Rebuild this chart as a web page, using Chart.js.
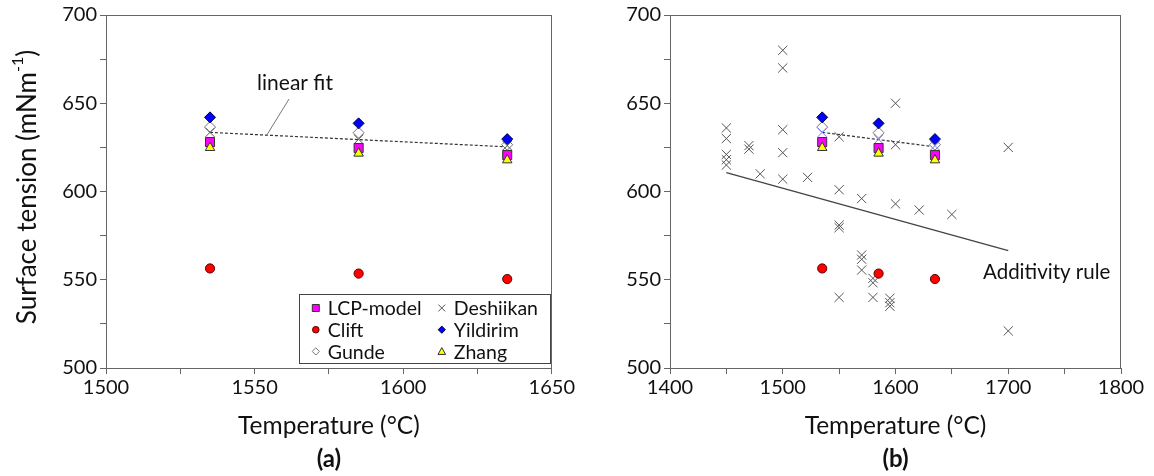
<!DOCTYPE html>
<html>
<head>
<meta charset="utf-8">
<script src="https://cdn.jsdelivr.net/npm/chart.js@4.4.0/dist/chart.umd.min.js"></script>
<style>
  body { margin: 0; background: #fff; }
  #wrap { position: relative; width: 1154px; height: 476px; }
  .pane { position: absolute; top: 0; width: 577px; height: 476px; }
</style>
</head>
<body>
<div id="wrap">
  <div class="pane" style="left:0"><canvas id="chartA" width="577" height="476"></canvas></div>
  <div class="pane" style="left:577px"><canvas id="chartB" width="577" height="476"></canvas></div>
</div>
<script>
// model temperatures (°C) and surface tension (mN/m)
const temps = [1535, 1585, 1635];
const lcpModel = [628, 624.6, 620.7];
const clift = [556.4, 553.5, 550.4];
const gunde = [636.5, 633.3, 626.5];
const deshiikan = [633.5, 629.6, 626];
const yildirim = [642, 638.6, 629.7];
const zhang = [624.8, 621.6, 617.8];

// linear fit through the model points
const fitT = [1535, 1635];
const fitST = [633.5, 625.3];

// experimental values (panel b)
const expT = [1450, 1450, 1450, 1450, 1450, 1470, 1470, 1480, 1500, 1500, 1500, 1500, 1500, 1522,
  1550, 1550, 1550, 1550, 1550, 1570, 1570, 1570, 1570, 1580, 1580, 1580, 1595, 1595, 1595,
  1600, 1600, 1600, 1621, 1650, 1700, 1700];
const expST = [636, 630, 621, 618, 615, 626, 624, 610, 680, 670, 635, 622, 607, 608,
  631, 601, 581, 579.5, 540, 596, 564, 561.6, 555.5, 550.8, 548.3, 540, 539.5, 537, 535,
  650, 626.5, 593, 589.5, 587, 625, 521];

// additivity rule
const addT = [1450, 1700];
const addST = [610.7, 566.5];

const yTicks = [500, 550, 600, 650, 700];
const xTicksA = [1500, 1550, 1600, 1650];
const xTicksB = [1400, 1500, 1600, 1700, 1800];

const FONT = 'Lato, "Open Sans", sans-serif';
const AXIS = '#666';

function pts(xs, ys) {
  return xs.map((x, i) => ({ x: x, y: ys[i] }));
}

const styles = {
  'LCP-model': { pointStyle: 'rect', pointRadius: 6.4, backgroundColor: '#ff00ff', borderColor: '#333' },
  'Clift': { pointStyle: 'circle', pointRadius: 4.6, backgroundColor: '#ff0000', borderColor: '#5a0000' },
  'Gunde': { pointStyle: 'rectRot', pointRadius: 5.5, backgroundColor: '#ffffff', borderColor: '#777' },
  'Deshiikan': { pointStyle: 'crossRot', pointRadius: 6.5, backgroundColor: '#555', borderColor: '#555' },
  'Yildirim': { pointStyle: 'rectRot', pointRadius: 5.5, backgroundColor: '#0000ff', borderColor: '#00004a' },
  'Zhang': { pointStyle: 'triangle', pointRadius: 5.5, backgroundColor: '#ffff00', borderColor: '#333' }
};

function series(label, ys, extra) {
  return Object.assign({
    type: 'scatter',
    label: label,
    data: pts(temps, ys),
    borderWidth: 1,
    pointBorderWidth: 1
  }, styles[label], extra || {});
}

function modelSets(desColor) {
  return [
    series('Yildirim', yildirim, { order: 1 }),
    series('Zhang', zhang, { order: 2 }),
    series('LCP-model', lcpModel, { order: 3 }),
    series('Deshiikan', deshiikan, { order: 4, borderColor: desColor, backgroundColor: desColor }),
    series('Gunde', gunde, { order: 5 }),
    series('Clift', clift, { order: 1 }),
    {
      type: 'line', label: 'linear fit', data: pts(fitT, fitST), order: 20,
      borderColor: '#333', borderWidth: 1.2, borderDash: [3, 2], pointRadius: 0, fill: false
    }
  ];
}

function scales(xmin, xmax, xstep, xlabels, yWidth) {
  return {
    x: {
      type: 'linear', min: xmin, max: xmax,
      afterFit: s => { s.height = 108; },
      ticks: {
        stepSize: xstep, padding: 2, color: '#111',
        font: { family: FONT, size: 20 },
        callback: v => xlabels.includes(v) ? String(v) : ''
      },
      grid: { drawOnChartArea: false, drawTicks: true, tickLength: 6, color: AXIS },
      border: { color: AXIS }
    },
    y: {
      type: 'linear', min: 500, max: 700,
      afterFit: s => { s.width = yWidth; },
      ticks: {
        stepSize: 25, padding: 3, color: '#111',
        font: { family: FONT, size: 20 },
        callback: v => yTicks.includes(v) ? String(v) : ''
      },
      grid: { drawOnChartArea: false, drawTicks: true, tickLength: 6, color: AXIS },
      border: { color: AXIS }
    }
  };
}

function marker(ctx, style, x, y, r, fill, stroke) {
  ctx.beginPath();
  if (style === 'rect') {
    ctx.rect(x - r, y - r, 2 * r, 2 * r);
  } else if (style === 'circle') {
    ctx.arc(x, y, r, 0, Math.PI * 2);
  } else if (style === 'rectRot') {
    ctx.moveTo(x, y - r); ctx.lineTo(x + r, y); ctx.lineTo(x, y + r); ctx.lineTo(x - r, y); ctx.closePath();
  } else if (style === 'triangle') {
    ctx.moveTo(x, y - r); ctx.lineTo(x + r, y + r * 0.8); ctx.lineTo(x - r, y + r * 0.8); ctx.closePath();
  } else if (style === 'crossRot') {
    ctx.moveTo(x - r, y - r); ctx.lineTo(x + r, y + r);
    ctx.moveTo(x + r, y - r); ctx.lineTo(x - r, y + r);
  }
  if (style !== 'crossRot') { ctx.fillStyle = fill; ctx.fill(); }
  ctx.lineWidth = 1;
  ctx.strokeStyle = stroke;
  ctx.stroke();
}

// plot box on all four sides
const frame = {
  id: 'frame',
  afterDraw(chart) {
    const { ctx, chartArea: a } = chart;
    ctx.save();
    ctx.strokeStyle = AXIS;
    ctx.lineWidth = 1;
    ctx.strokeRect(Math.round(a.left) + 0.5, Math.round(a.top) + 0.5,
      Math.round(a.right - a.left) - 1, Math.round(a.bottom - a.top));
    ctx.restore();
  }
};

function xTitle(chart, tag) {
  const { ctx, chartArea: a } = chart;
  const cx = (a.left + a.right) / 2;
  ctx.save();
  ctx.fillStyle = '#111';
  ctx.textAlign = 'center';
  ctx.textBaseline = 'middle';
  ctx.font = '24.5px ' + FONT;
  ctx.fillText('Temperature (°C)', cx, 426);
  ctx.font = 'bold 24px ' + FONT;
  ctx.fillText(tag, cx, 459);
  ctx.restore();
}

const decorA = {
  id: 'decorA',
  afterDraw(chart) {
    const ctx = chart.ctx;
    const xs = chart.scales.x, ys = chart.scales.y;
    xTitle(chart, '(a)');

    // y axis title with superscript
    ctx.save();
    ctx.translate(28, 187);
    ctx.rotate(-Math.PI / 2);
    ctx.fillStyle = '#111';
    ctx.textBaseline = 'middle';
    const big = '26px ' + FONT, sup = '16px ' + FONT;
    ctx.font = big;
    const p1 = 'Surface tension (mNm';
    const w1 = ctx.measureText(p1).width, w3 = ctx.measureText(')').width;
    ctx.font = sup;
    const w2 = ctx.measureText('-1').width;
    let x = -(w1 + w2 + w3) / 2;
    ctx.font = big; ctx.fillText(p1, x, 0); x += w1;
    ctx.font = sup; ctx.fillText('-1', x, -10); x += w2;
    ctx.font = big; ctx.fillText(')', x, 0);
    ctx.restore();

    // linear fit note
    ctx.save();
    ctx.fillStyle = '#111';
    ctx.font = '21px ' + FONT;
    ctx.textAlign = 'center';
    ctx.textBaseline = 'middle';
    ctx.fillText('linear fit', xs.getPixelForValue(1563.6), ys.getPixelForValue(661.5));
    ctx.strokeStyle = '#777';
    ctx.lineWidth = 1;
    ctx.beginPath();
    ctx.moveTo(xs.getPixelForValue(1561.6), ys.getPixelForValue(652.4));
    ctx.lineTo(xs.getPixelForValue(1554.3), ys.getPixelForValue(632.5));
    ctx.stroke();
    ctx.restore();

    // legend box
    const a = chart.chartArea;
    const bx = a.right - 253, by = a.bottom - 74, bw = 251, bh = 69;
    ctx.save();
    ctx.fillStyle = '#fff';
    ctx.fillRect(bx, by, bw, bh);
    ctx.strokeStyle = '#444';
    ctx.lineWidth = 1;
    ctx.strokeRect(Math.round(bx) + 0.5, Math.round(by) + 0.5, bw, bh);
    const cols = [['LCP-model', 'Clift', 'Gunde'], ['Deshiikan', 'Yildirim', 'Zhang']];
    const keySize = { 'LCP-model': 3.5, 'Clift': 3.3, 'Gunde': 3.6, 'Deshiikan': 3.4, 'Yildirim': 3.6, 'Zhang': 3.8 };
    ctx.font = '19.5px ' + FONT;
    ctx.textBaseline = 'middle';
    cols.forEach((col, ci) => {
      col.forEach((name, ri) => {
        const mx = bx + 17 + ci * 126, my = by + 14 + ri * 21.7;
        const st = styles[name];
        marker(ctx, st.pointStyle, mx, my, keySize[name], st.backgroundColor, st.borderColor);
        ctx.fillStyle = '#111';
        ctx.fillText(name, mx + 12, my + 1);
      });
    });
    ctx.restore();
  }
};

const decorB = {
  id: 'decorB',
  afterDraw(chart) {
    const ctx = chart.ctx;
    const xs = chart.scales.x, ys = chart.scales.y;
    xTitle(chart, '(b)');
    ctx.save();
    ctx.fillStyle = '#111';
    ctx.font = '20.5px ' + FONT;
    ctx.textAlign = 'left';
    ctx.textBaseline = 'middle';
    ctx.fillText('Additivity rule', xs.getPixelForValue(1677.6), ys.getPixelForValue(554.4));
    ctx.restore();
  }
};

const common = {
  responsive: false,
  animation: false,
  events: [],
  plugins: { legend: { display: false }, tooltip: { enabled: false } }
};

new Chart(document.getElementById('chartA'), {
  type: 'scatter',
  data: { datasets: modelSets('#555') },
  options: Object.assign({}, common, {
    layout: { padding: { left: 0, top: 15, right: 18, bottom: 0 } },
    scales: scales(1500, 1650, 25, xTicksA, 106)
  }),
  plugins: [frame, decorA]
});

new Chart(document.getElementById('chartB'), {
  type: 'scatter',
  data: {
    datasets: modelSets('#7a7aff').concat([
      {
        type: 'scatter', label: 'Experimental', data: pts(expT, expST), order: 15,
        pointStyle: 'crossRot', pointRadius: 6.5, borderColor: '#555', pointBorderWidth: 1
      },
      {
        type: 'line', label: 'Additivity rule', data: pts(addT, addST), order: 21,
        borderColor: '#444', borderWidth: 1.4, pointRadius: 0, fill: false
      }
    ])
  },
  options: Object.assign({}, common, {
    layout: { padding: { left: 0, top: 15, right: 33, bottom: 0 } },
    scales: scales(1400, 1800, 50, xTicksB, 93)
  }),
  plugins: [frame, decorB]
});
</script>
</body>
</html>
